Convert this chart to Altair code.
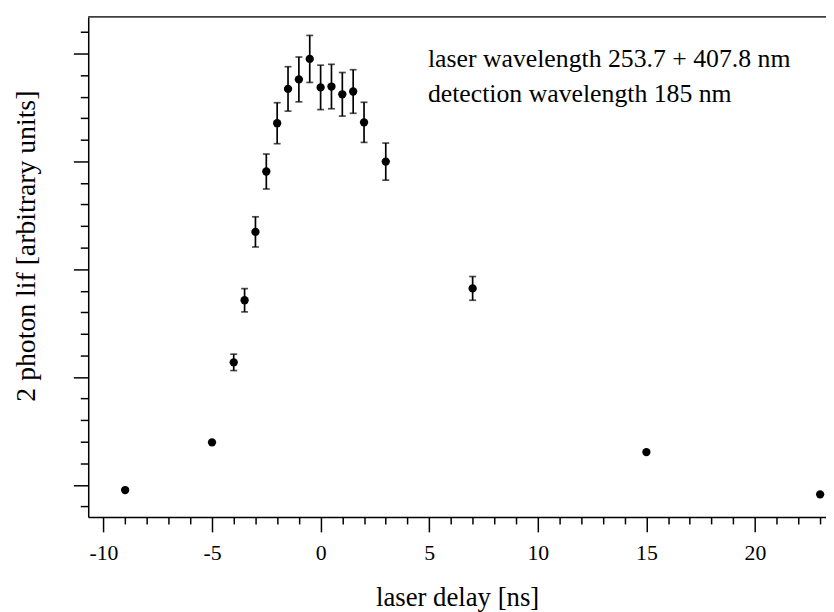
import altair as alt
import pandas as pd

delay = [-9, -5, -4, -3.5, -3, -2.5, -2, -1.5, -1, -0.5, 0, 0.5, 1, 1.5, 2, 3, 7, 15, 23]
signal = [-0.24, 1.97, 5.68, 8.56, 11.73, 14.53, 16.77, 18.36, 18.80, 19.75, 18.43, 18.47,
          18.11, 18.24, 16.81, 14.99, 9.11, 1.52, -0.44]
error = [0, 0, 0.38, 0.54, 0.70, 0.81, 0.95, 1.03, 1.04, 1.09, 1.03, 1.03,
         1.01, 1.01, 0.93, 0.86, 0.55, 0, 0]

notes = ["laser wavelength 253.7 + 407.8 nm", "detection wavelength 185 nm"]

df = pd.DataFrame({"delay": delay, "signal": signal, "err": error})
df["lo"] = df["signal"] - df["err"]
df["hi"] = df["signal"] + df["err"]
dfe = df[df["err"] > 0]

FONT = "Liberation Serif"
W, H = 745, 505

xscale = alt.Scale(domain=[-10.7, 23.27], nice=False, zero=False)
yscale = alt.Scale(domain=[-1.49, 21.7], nice=False, zero=False)

xaxis = alt.Axis(
    values=list(range(-10, 24)), tickCount=200,
    tickSize={"condition": {"test": "datum.value % 5 === 0", "value": 15}, "value": 7},
    labelExpr="datum.value % 5 === 0 ? toString(datum.value) : ''",
    labelOverlap=False, labelFont=FONT, labelFontSize=22, labelColor="black",
    labelPadding=11,
    title="laser delay [ns]", titleFont=FONT, titleFontSize=27, titleFontWeight="normal",
    titleColor="black", titlePadding=21,
    grid=False, domainColor="black", domainWidth=1.5, tickColor="black", tickWidth=1.5,
)
yaxis = alt.Axis(
    values=list(range(-1, 22)), tickCount=200,
    tickSize={"condition": {"test": "datum.value % 5 === 0", "value": 15}, "value": 8},
    labels=False,
    title="2 photon lif [arbitrary units]", titleFont=FONT, titleFontSize=28,
    titleFontWeight="normal", titleColor="black", titleAngle=-90,
    titleX=-62, titleY=231, titleAlign="center", titleBaseline="middle",
    grid=False, domainColor="black", domainWidth=1.5, tickColor="black", tickWidth=1.5,
)

base = alt.Chart(df)

points = base.mark_circle(size=70, color="black", opacity=1).encode(
    x=alt.X("delay:Q", scale=xscale, axis=xaxis),
    y=alt.Y("signal:Q", scale=yscale, axis=yaxis),
)

bars = alt.Chart(dfe).mark_rule(color="black", strokeWidth=1.7).encode(
    x=alt.X("delay:Q", scale=xscale),
    y=alt.Y("lo:Q", scale=yscale),
    y2="hi:Q",
)
caps_hi = alt.Chart(dfe).mark_tick(color="black", thickness=1.7, size=7, orient="horizontal").encode(
    x=alt.X("delay:Q", scale=xscale),
    y=alt.Y("hi:Q", scale=yscale),
)
caps_lo = alt.Chart(dfe).mark_tick(color="black", thickness=1.7, size=7, orient="horizontal").encode(
    x=alt.X("delay:Q", scale=xscale),
    y=alt.Y("lo:Q", scale=yscale),
)

topline = alt.Chart(pd.DataFrame({"a": [0]})).mark_rule(color="black", strokeWidth=1.5).encode(
    x=alt.value(0), x2=alt.value(W), y=alt.value(0)
)

note_df = pd.DataFrame({"t": notes, "py": [43, 78]})
note = alt.Chart(note_df).mark_text(
    align="left", baseline="middle", font=FONT, fontSize=26, color="black"
).encode(
    text="t:N", x=alt.value(343), y=alt.Y("py:Q", scale=None)
)

chart = alt.layer(bars, caps_hi, caps_lo, points, topline, note).properties(
    width=W, height=H,
    autosize=alt.AutoSizeParams(type="none"),
    padding={"left": 81, "top": 6, "right": 0, "bottom": 96},
).configure_view(stroke=None).configure(background="white")

chart.save("out.html", embed_options={"renderer": "svg", "actions": False})
